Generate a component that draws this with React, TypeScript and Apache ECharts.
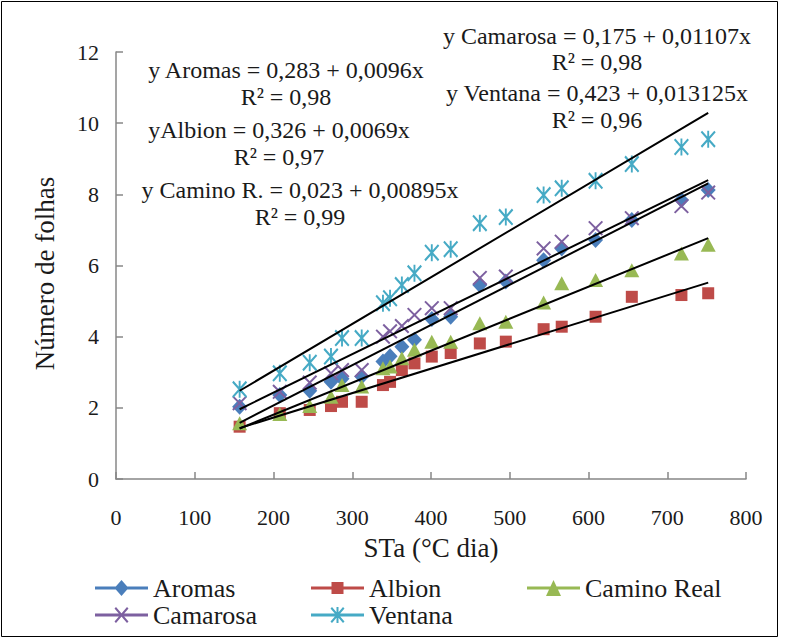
import React, { useEffect, useRef } from "react";
import * as echarts from "echarts";

// ---- data ----
const stX = [157, 208, 246, 273, 287, 312, 339, 348, 363, 379, 401, 425, 462, 495, 543, 566, 609, 655, 718, 752];
const aromas = [2.03, 2.36, 2.48, 2.73, 2.82, 2.88, 3.3, 3.45, 3.72, 3.91, 4.5, 4.56, 5.45, 5.55, 6.15, 6.48, 6.72, 7.28, 7.84, 8.12];
const albion = [1.47, 1.85, 1.94, 2.05, 2.17, 2.17, 2.64, 2.73, 3.06, 3.25, 3.44, 3.54, 3.81, 3.86, 4.21, 4.28, 4.56, 5.12, 5.17, 5.22];
const caminoReal = [1.57, 1.83, 2.05, 2.31, 2.64, 2.6, 3.11, 3.16, 3.39, 3.63, 3.86, 3.86, 4.38, 4.42, 4.96, 5.5, 5.59, 5.87, 6.34, 6.58];
const camarosa = [2.13, 2.45, 2.71, 2.97, 3.06, 3.06, 4.0, 4.15, 4.3, 4.61, 4.8, 4.8, 5.65, 5.69, 6.48, 6.67, 7.05, 7.33, 7.67, 8.05];
const ventana = [2.52, 2.97, 3.27, 3.44, 3.96, 3.96, 4.94, 5.08, 5.45, 5.78, 6.36, 6.46, 7.19, 7.36, 7.98, 8.17, 8.38, 8.85, 9.33, 9.55];

const seriesNames = ["Aromas", "Albion", "Camino Real", "Camarosa", "Ventana"];
const seriesColors = ["#4A7EBB", "#BE4B48", "#98B954", "#7D60A0", "#46AAC5"];

// trend lines (start / end values)
const trendX = [157, 752];
const trendStart = [1.58, 1.43, 1.42, 1.96, 2.48];
const trendEnd = [8.31, 5.52, 6.77, 8.4, 10.29];

const xTicks = [0, 800, 100];
const yTicks = [0, 12, 2];

const equations = [
  ["y Camarosa = 0,175 + 0,01107x", "R² = 0,98"],
  ["y Ventana = 0,423 + 0,013125x", "R² = 0,96"],
  ["y Aromas = 0,283 + 0,0096x", "R² = 0,98"],
  ["yAlbion = 0,326 + 0,0069x", "R² = 0,97"],
  ["y Camino R. = 0,023 + 0,00895x", "R² = 0,99"],
];

const FONT = "'Liberation Serif', 'Times New Roman', serif";

const symX = "path://M0,1.5 L1.5,0 L16,14.5 L14.5,16 Z M14.5,0 L16,1.5 L1.5,16 L0,14.5 Z";
const symAst = "path://M0,1.5 L1.5,0 L16,14.5 L14.5,16 Z M14.5,0 L16,1.5 L1.5,16 L0,14.5 Z M7,0 L9,0 L9,16 L7,16 Z";
const symbols = ["diamond", "rect", "triangle", symX, symAst];
const symbolSizes: any[] = [[15, 16], 12, [15, 14], 15, [15, 17]];

const line = "M0,6.5 L53,6.5 L53,9.5 L0,9.5 Z ";
const legendIcons = [
  "path://" + line + "M26.5,0 L33.5,8 L26.5,16 L19.5,8 Z",
  "path://" + line + "M20.5,2 L32.5,2 L32.5,14 L20.5,14 Z M26.5,0 L26.5,0.1 Z M26.5,16 L26.5,15.9 Z",
  "path://" + line + "M26.5,0 L34,16 L19,16 Z",
  "path://" + line + "M19.5,1.5 L21,0 L33.5,14.5 L32,16 Z M32,0 L33.5,1.5 L21,16 L19.5,14.5 Z",
  "path://" + line + "M19.5,1.5 L21,0 L33.5,14.5 L32,16 Z M32,0 L33.5,1.5 L21,16 L19.5,14.5 Z M25.5,0 L27.5,0 L27.5,16 L25.5,16 Z",
];
const legendPos = [
  [95, 575],
  [311, 575],
  [527, 575],
  [95, 602],
  [311, 602],
];

export default function App() {
  const ref = useRef<HTMLDivElement>(null);
  useEffect(() => {
    document.body.style.margin = "0";
    const chart = echarts.init(ref.current!, null, { renderer: "svg" });
    const allData = [aromas, albion, caminoReal, camarosa, ventana];
    const scatter = allData.map((vals, i) => ({
      name: seriesNames[i],
      type: "scatter",
      data: vals.map((v, j) => [stX[j], v]),
      symbol: symbols[i],
      symbolSize: symbolSizes[i],
      itemStyle: { color: seriesColors[i], opacity: 1 },
      z: 2,
    }));
    const trends = trendStart.map((s, i) => ({
      name: "trend" + i,
      type: "line",
      data: [
        [trendX[0], s],
        [trendX[1], trendEnd[i]],
      ],
      symbol: "none",
      lineStyle: { color: "#000", width: 2 },
      z: 3,
      silent: true,
    }));
    const axisColor = "#878787";
    const labelStyle = { color: "#1a1a1a", fontFamily: FONT, fontSize: 22 };
    const graphics: any[] = [
      {
        type: "rect",
        shape: { x: 1.5, y: 1.5, width: 776, height: 635 },
        style: { fill: "none", stroke: "#000", lineWidth: 1 },
        z: 100,
      },
    ];
    const eqPos = [
      [597, 36, 62],
      [597, 93, 120],
      [286, 70, 97],
      [279, 130, 157],
      [300, 190, 217],
    ];
    equations.forEach((eq, i) => {
      [0, 1].forEach((k) => {
        graphics.push({
          type: "text",
          x: eqPos[i][0],
          y: eqPos[i][1 + k],
          z: 50,
          style: {
            text: eq[k],
            fill: "#1a1a1a",
            font: `24px ${FONT}`,
            align: "center",
            verticalAlign: "middle",
          },
        });
      });
    });
    chart.setOption({
      animation: false,
      backgroundColor: "#fff",
      grid: { left: 116, right: 40, top: 52, bottom: 161 },
      xAxis: {
        type: "value",
        min: xTicks[0],
        max: xTicks[1],
        interval: xTicks[2],
        name: "STa (°C dia)",
        nameLocation: "middle",
        nameGap: 55,
        nameTextStyle: { color: "#1a1a1a", fontFamily: FONT, fontSize: 27 },
        axisLine: { show: true, lineStyle: { color: axisColor, width: 1.5 } },
        axisTick: { show: true, inside: true, length: 7, lineStyle: { color: axisColor, width: 1.5 } },
        splitLine: { show: false },
        axisLabel: { ...labelStyle, margin: 27 },
      },
      yAxis: {
        type: "value",
        min: yTicks[0],
        max: yTicks[1],
        interval: yTicks[2],
        name: "Número de folhas",
        nameLocation: "middle",
        nameGap: 58,
        nameRotate: 90,
        nameTextStyle: { color: "#1a1a1a", fontFamily: FONT, fontSize: 27, padding: [0, 16, 0, 0] },
        axisLine: { show: true, lineStyle: { color: axisColor, width: 1.5 } },
        axisTick: { show: true, inside: true, length: 7, lineStyle: { color: axisColor, width: 1.5 } },
        splitLine: { show: false },
        axisLabel: { ...labelStyle, margin: 17 },
      },
      legend: seriesNames.map((n, i) => ({
        data: [{ name: n, icon: legendIcons[i], itemStyle: { color: seriesColors[i] } }],
        left: legendPos[i][0],
        top: legendPos[i][1],
        padding: 0,
        itemWidth: 53,
        itemHeight: 16,
        selectedMode: false,
        textStyle: { color: "#1a1a1a", fontFamily: FONT, fontSize: 26 },
      })),
      graphic: graphics,
      series: [...scatter, ...trends],
    });
    return () => chart.dispose();
  }, []);
  return <div ref={ref} style={{ width: 786, height: 640 }} />;
}
